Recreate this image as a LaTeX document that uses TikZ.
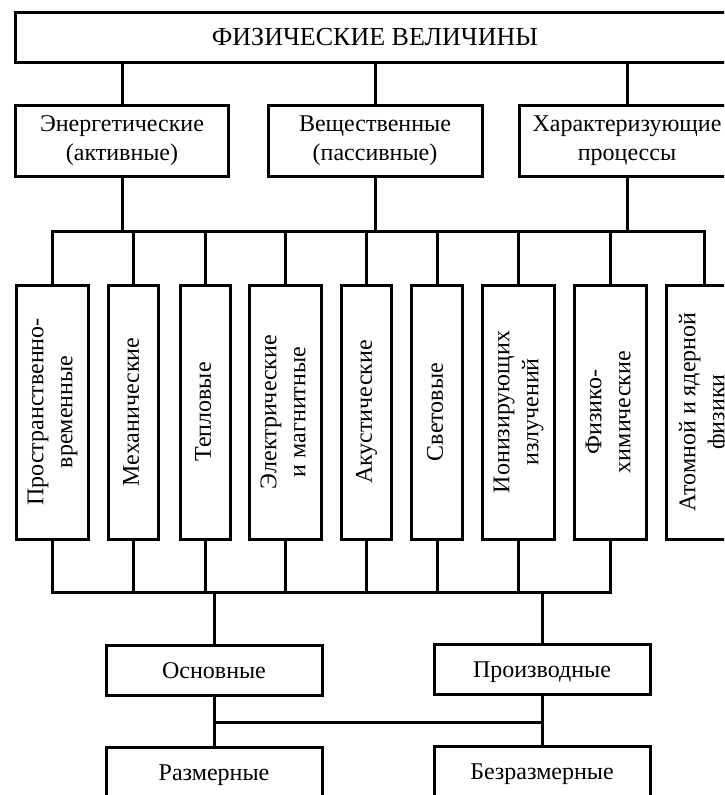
\documentclass[tikz,border=0pt]{standalone}
\usepackage{fontspec}
\setmainfont{Liberation Serif}
\newcommand{\vlabel}[1]{\rotatebox{90}{\begin{tabular}{@{}c@{}}#1\end{tabular}}}

\begin{document}
\begin{tikzpicture}[x=1pt,y=-1pt,line width=3pt,line cap=rect,
  box/.style={draw,rectangle,inner sep=0pt,align=center,font=\fontsize{24}{29}\selectfont},
  kindbox/.style={box,minimum width=214pt,minimum height=71pt},
  vbox/.style={box,minimum height=254pt},
  lowbox/.style={box,minimum width=216pt,minimum height=50pt,text height=16pt,text depth=0pt}]
\useasboundingbox (0,0) rectangle (724,795);
\clip (0,0) rectangle (724,795);
\node[box,minimum width=720pt,minimum height=50pt,font=\fontsize{26}{30}\selectfont] (phys) at (375,37) {ФИЗИЧЕСКИЕ ВЕЛИЧИНЫ};
\node[kindbox,minimum width=213pt] (act) at (122,141) {Энергетические\\(активные)};
\node[kindbox] (pas) at (375,141) {Вещественные\\(пассивные)};
\node[kindbox,minimum width=216pt] (proc) at (627,141) {Характеризующие\\процессы};
\node[vbox,minimum width=72pt] (v1) at (52,412) {\vlabel{Пространственно-\\временные}};
\node[vbox,minimum width=50pt] (v2) at (133,412) {\vlabel{Механические}};
\node[vbox,minimum width=50pt] (v3) at (205,412) {\vlabel{Тепловые}};
\node[vbox,minimum width=72pt] (v4) at (285,412) {\vlabel{Электрические\\и магнитные}};
\node[vbox,minimum width=50pt] (v5) at (366,412) {\vlabel{Акустические}};
\node[vbox,minimum width=51pt] (v6) at (437,412) {\vlabel{Световые}};
\node[vbox,minimum width=72pt] (v7) at (518,412) {\vlabel{Ионизирующих\\излучений}};
\node[vbox,minimum width=72pt] (v8) at (610,412) {\vlabel{Физико-\\химические}};
\node[vbox,minimum width=76pt] (v9) at (704,412) {\vlabel{Атомной и ядерной\\физики}};
\node[lowbox] (base) at (214,670) {Основные};
\node[lowbox] (deriv) at (542,669) {Производные};
\node[lowbox] (dim) at (214,772) {Размерные};
\node[lowbox] (nodim) at (542,771) {Безразмерные};
\coordinate (busup) at (0,231);
\coordinate (buslow) at (0,592);
\coordinate (cross) at (0,722);
\foreach \n in {act,pas,proc} \draw (\n.north) -- (\n.north |- phys.south);
\foreach \n in {act,pas,proc} \draw (\n.south) -- (\n.south |- busup);
\draw (v1.north |- busup) -- (v9.north |- busup);
\foreach \n in {1,...,9} \draw (v\n.north) -- (v\n.north |- busup);
\foreach \n in {1,...,8} \draw (v\n.south) -- (v\n.south |- buslow);
\draw (v1.south |- buslow) -- (v8.south |- buslow);
\draw (base.north) -- (base.north |- buslow);
\draw (deriv.north) -- (deriv.north |- buslow);
\draw (base.south) -- (dim.north);
\draw (deriv.south) -- (nodim.north);
\draw (base.south |- cross) -- (deriv.south |- cross);
\end{tikzpicture}
\end{document}
